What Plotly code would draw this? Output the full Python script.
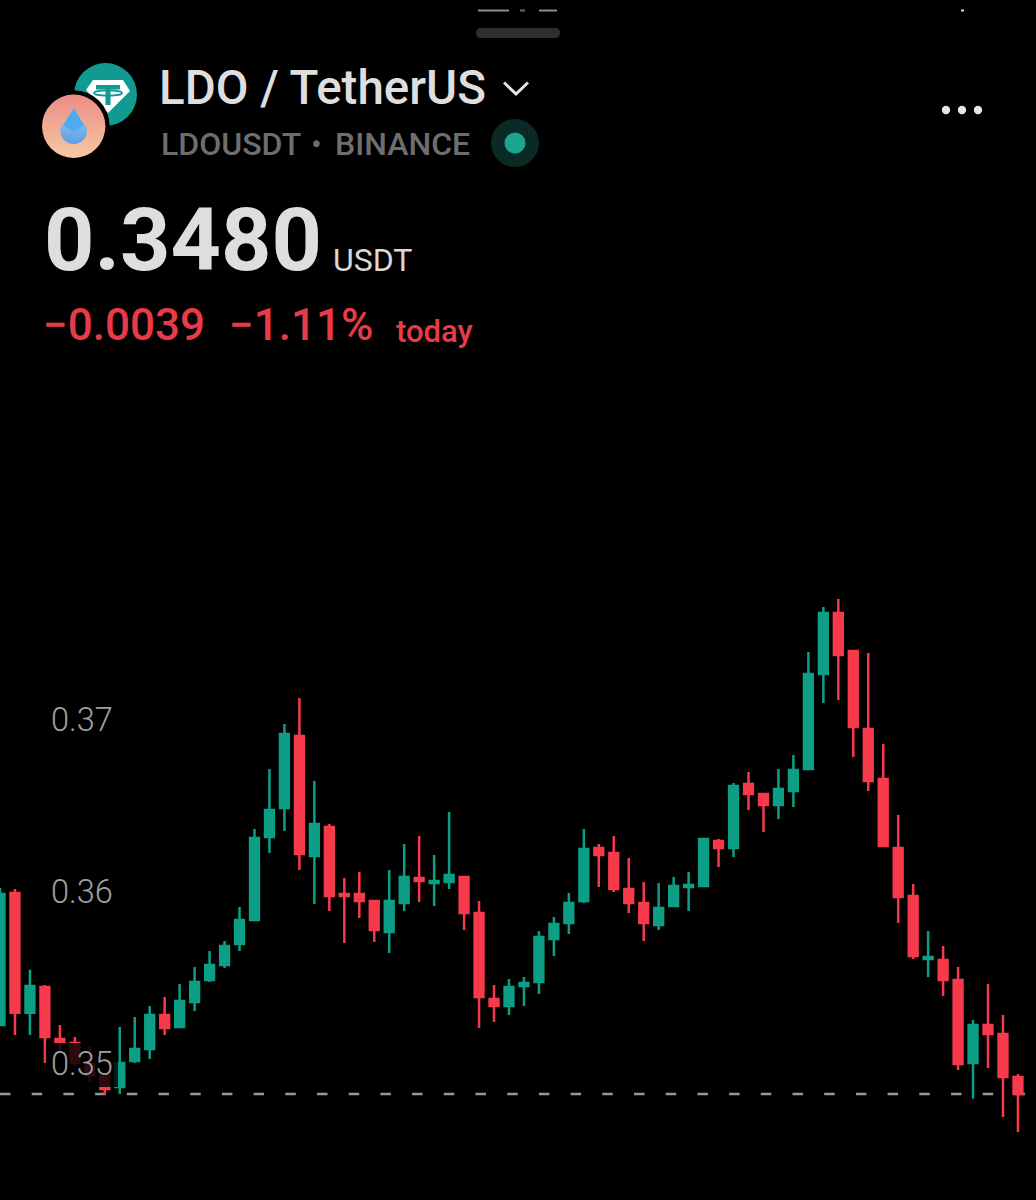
import base64
import plotly.graph_objects as go

# ---- chart data (prices) ----
highs = [.36023,.36017,.35547,.35459,.35227,.35157,.35099,.34948,.35215,.35273,.35337,.35390,.35465,.35564,.35657,.35715,.35913,.36366,.36715,.36977,.37128,.36645,.36395,.36081,.36116,.35948,.36128,.36279,.36326,.36215,.36465,.36087,.35948,.35459,.35494,.35506,.35773,.35855,.35994,.36366,.36279,.36326,.36198,.36058,.36052,.36087,.36116,.36314,.36308,.36634,.36698,.36570,.36715,.36797,.37395,.37657,.37703,.37407,.37390,.36860,.36448,.36047,.35773,.35686,.35564,.35256,.35465,.35285,.34942]
lows = [.35227,.35169,.35169,.35006,.35070,.34988,.34895,.34820,.34826,.35006,.35029,.35169,.35209,.35308,.35477,.35558,.35657,.35837,.36227,.36355,.36128,.35930,.35890,.35703,.35849,.35709,.35645,.35890,.35942,.35919,.36017,.35779,.35209,.35244,.35285,.35337,.35407,.35628,.35756,.35936,.36029,.36000,.35878,.35715,.35779,.35919,.35890,.36029,.36145,.36203,.36477,.36349,.36424,.36494,.36709,.37099,.37116,.36785,.36587,.36262,.35820,.35610,.35506,.35395,.34965,.34797,.34977,.34692,.34605]
opens = [.35227,.35994,.35297,.35448,.35145,.35122,.35000,.34930,.34866,.35017,.35087,.35285,.35215,.35360,.35488,.35576,.35698,.35837,.36320,.36488,.36907,.36209,.36378,.35988,.35988,.35948,.35767,.35936,.36081,.36052,.36058,.36087,.35878,.35378,.35337,.35453,.35477,.35727,.35820,.35948,.36256,.36227,.36017,.35936,.35808,.35919,.36029,.36035,.36297,.36256,.36628,.36570,.36506,.36587,.36715,.37267,.37622,.37401,.36948,.36657,.36256,.35977,.35610,.35605,.35488,.35006,.35227,.35174,.34924]
closes = [.35988,.35297,.35453,.35157,.35128,.35006,.34936,.34855,.35006,.35087,.35285,.35209,.35366,.35477,.35576,.35686,.35837,.36314,.36477,.36919,.36221,.36395,.35977,.35977,.35948,.35779,.35948,.36087,.36064,.36064,.36099,.35878,.35390,.35337,.35448,.35471,.35738,.35814,.35936,.36250,.36215,.36017,.35936,.35820,.35907,.36035,.36041,.36308,.36256,.36616,.36570,.36506,.36599,.36709,.37267,.37622,.37378,.36959,.36645,.36267,.35971,.35628,.35622,.35488,.35000,.35227,.35174,.34924,.34826]
candle_index = list(range(len(closes)))
tick_values = [0.35, 0.36, 0.37]
tick_labels = ["0.35", "0.36", "0.37"]

GREEN = "#0C9F86"
RED = "#F63A4C"
W, H = 1036, 1200


def fx(px):
    return px / W


def fy(px):
    return 1 - px / H


icon_svg = """<svg xmlns='http://www.w3.org/2000/svg' viewBox='0 0 110 108' width='110' height='108'>
<defs>
<linearGradient id='p' x1='0' y1='0' x2='0' y2='1'><stop offset='0' stop-color='#EC8C86'/><stop offset='1' stop-color='#F5C9A2'/></linearGradient>
<linearGradient id='d' x1='0' y1='0' x2='0' y2='1'><stop offset='0' stop-color='#9BD0F2'/><stop offset='1' stop-color='#5C9FE6'/></linearGradient>
</defs>
<circle cx='69.5' cy='36.5' r='31.5' fill='#119A90'/>
<path d='M57 22 L87 22 L94 33 L72 55 L50 32 Z' fill='#FFFFFF'/>
<path d='M60 27 H84 V31.5 H74.5 V47 H69.5 V31.5 H60 Z' fill='#119A90'/>
<ellipse cx='72' cy='35' rx='14' ry='2.6' fill='none' stroke='#119A90' stroke-width='1.8'/>
<circle cx='37.7' cy='68.3' r='36' fill='#000000'/>
<circle cx='37.7' cy='68.3' r='31.7' fill='url(#p)'/>
<path d='M37.7 50 L46 64 C49 67 51 69 51 73 C51 80 45 86 37.7 86 C30.4 86 24.3 80 24.3 73 C24.3 69 26 67 29 64 Z' fill='url(#d)'/>
<path d='M37.7 50 L48 67 L37.7 74 L27.3 67 Z' fill='#4FAAEE'/>
</svg>"""
icon_uri = "data:image/svg+xml;base64," + base64.b64encode(icon_svg.encode()).decode()

fig = go.Figure()
fig.add_trace(go.Candlestick(
    x=candle_index, open=opens, high=highs, low=lows, close=closes,
    increasing=dict(line=dict(color=GREEN, width=2.5), fillcolor=GREEN),
    decreasing=dict(line=dict(color=RED, width=2.5), fillcolor=RED),
    whiskerwidth=0, hoverinfo="skip", showlegend=False,
))
# soft dark plate the app puts behind the 0.35 price label
fig.add_trace(go.Scatter(
    x=[3.07, 7.88, 7.88, 3.07, 3.07], y=[.35122, .35122, .34866, .34866, .35122],
    yaxis="y2", mode="none", fill="toself", fillcolor="rgba(0,0,0,0.82)",
    hoverinfo="skip", showlegend=False,
))

shapes = [
    dict(type="line", xref="paper", x0=0, x1=1, yref="y", y0=closes[-1], y1=closes[-1], layer="below",
         line=dict(color="#979797", width=2.5, dash="10.5px,21.2px")),
    # drag handle + clipped status text at the top
    dict(type="path", xref="paper", yref="paper",
         path=f"M{fx(481)},{fy(28)} L{fx(555)},{fy(28)} Q{fx(560)},{fy(28)} {fx(560)},{fy(33)} Q{fx(560)},{fy(38)} {fx(555)},{fy(38)} L{fx(481)},{fy(38)} Q{fx(476)},{fy(38)} {fx(476)},{fy(33)} Q{fx(476)},{fy(28)} {fx(481)},{fy(28)} Z",
         fillcolor="#2E2E2E", line=dict(width=0)),
    dict(type="line", xref="paper", yref="paper", x0=fx(478), x1=fx(509), y0=fy(10.5), y1=fy(10.5), line=dict(color="#8A8A8A", width=2)),
    dict(type="line", xref="paper", yref="paper", x0=fx(520), x1=fx(525), y0=fy(10.5), y1=fy(10.5), line=dict(color="#6A6A6A", width=2)),
    dict(type="line", xref="paper", yref="paper", x0=fx(539), x1=fx(557), y0=fy(10.5), y1=fy(10.5), line=dict(color="#8A8A8A", width=2)),
    dict(type="line", xref="paper", yref="paper", x0=fx(961), x1=fx(964), y0=fy(10.5), y1=fy(10.5), line=dict(color="#D8D8D8", width=2)),
    # chevron
    dict(type="path", xref="paper", yref="paper",
         path=f"M{fx(504)},{fy(82.5)} L{fx(516)},{fy(94)} L{fx(528)},{fy(82.5)}",
         line=dict(color="#E6E6E6", width=3)),
]
for cx, cy, r, col in [(515, 143, 24, "#0B2A25"), (515, 143, 10.5, "#1AA58C"),
                       (946, 110, 4.2, "#E6E6E6"), (962, 110, 4.2, "#E6E6E6"), (978, 110, 4.2, "#E6E6E6")]:
    shapes.append(dict(type="circle", xref="paper", yref="paper", x0=fx(cx - r), x1=fx(cx + r),
                       y0=fy(cy + r), y1=fy(cy - r), fillcolor=col, line=dict(width=0)))


def note(text, x, y, size, color, weight=400):
    return dict(text=text, x=fx(x), y=fy(y), xref="paper", yref="paper", xanchor="left", yanchor="middle",
                showarrow=False, borderpad=0, font=dict(family="Roboto", size=size, color=color, weight=weight))


annotations = [
    note("LDO / TetherUS", 158, 88, 47.5, "#DEDEDE", 500),
    note("LDOUSDT", 160, 144, 32, "#6E6E6E", 500),
    note("•", 310, 144, 32, "#6E6E6E"),
    note("BINANCE", 334, 144, 32, "#6E6E6E", 500),
    note("0.3480", 43, 239.5, 88, "#DEDEDE", 700),
    note("USDT", 332, 260, 32, "#D8D8D8"),
    note("−0.0039", 42, 325, 44, "#E83B4A", 500),
    note("−1.11%", 228, 325, 44, "#E83B4A", 500),
    note("today", 395, 331, 31, "#E83B4A", 500),
]

fig.update_layout(
    width=W, height=H, autosize=False,
    margin=dict(l=0, r=0, t=0, b=0),
    paper_bgcolor="#000000", plot_bgcolor="#000000",
    boxgap=0.16,
    showlegend=False,
    shapes=shapes, annotations=annotations,
    images=[dict(source=icon_uri, xref="paper", yref="paper", x=fx(36), y=fy(58), sizex=fx(110), sizey=108 / H,
                 xanchor="left", yanchor="top", sizing="stretch", layer="above")],
    xaxis=dict(range=[0, W / 14.97], visible=False, rangeslider=dict(visible=False), fixedrange=True),
    yaxis=dict(range=[0.34209, 0.41186], showgrid=False, zeroline=False, showline=False, ticks="",
               tickmode="array", tickvals=tick_values, ticktext=tick_labels,
               ticklabelposition="inside", ticklabelstandoff=48,
               tickfont=dict(family="Roboto", size=32.5, color="#A0A0A0", weight=300), fixedrange=True),
    yaxis2=dict(range=[0.34209, 0.41186], overlaying="y", visible=False, fixedrange=True),
)
fig.write_html("out.html", config=dict(displayModeBar=False),
               post_script="document.body.style.margin='0';document.documentElement.style.background='#000';")
